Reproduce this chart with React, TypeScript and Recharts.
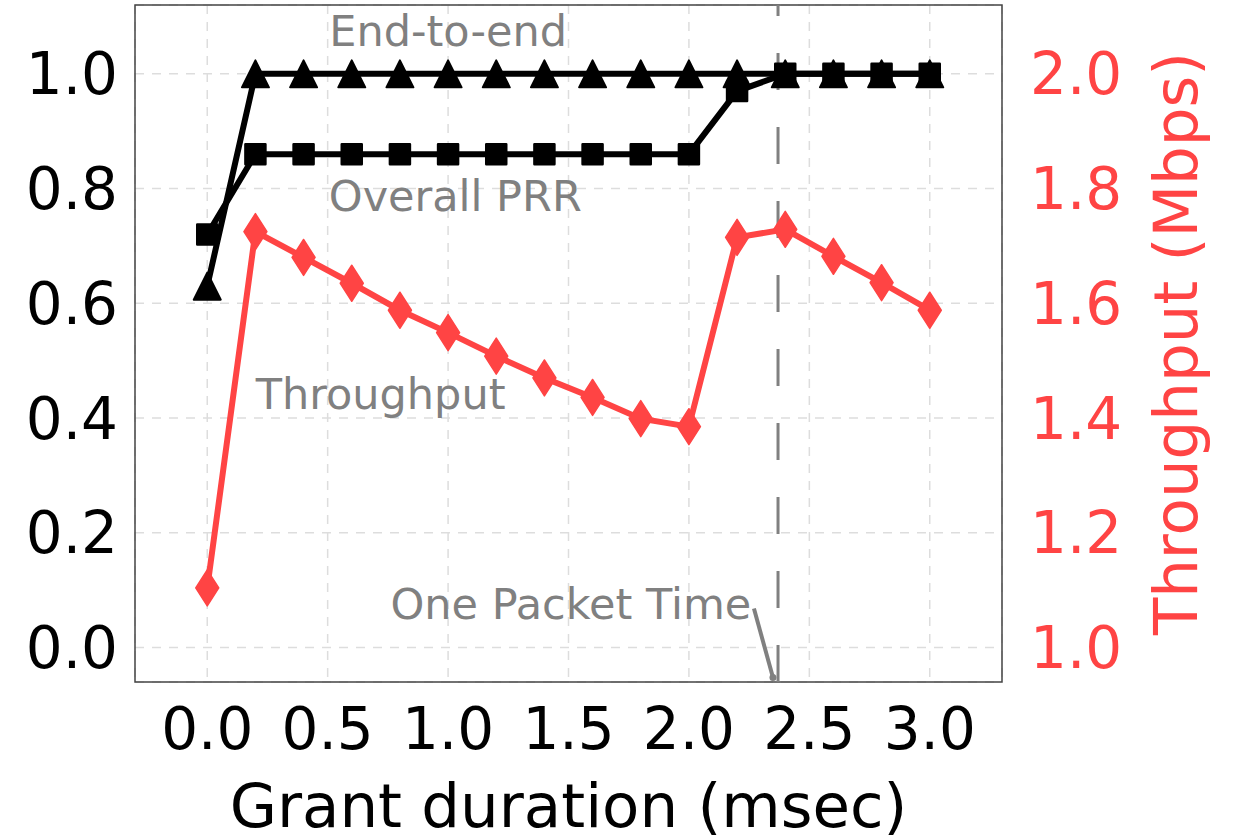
import React from 'react';
import {
  ComposedChart,
  Line,
  XAxis,
  YAxis,
  CartesianGrid,
  ReferenceLine,
  ReferenceDot,
  ReferenceArea,
} from 'recharts';

// grant duration in msec
const grantDuration = [0, 0.2, 0.4, 0.6, 0.8, 1.0, 1.2, 1.4, 1.6, 1.8, 2.0, 2.2, 2.4, 2.6, 2.8, 3.0];
const endToEndPrr = [0.63, 1, 1, 1, 1, 1, 1, 1, 1, 1, 1, 1, 1, 1, 1, 1];
const overallPrr = [0.72, 0.86, 0.86, 0.86, 0.86, 0.86, 0.86, 0.86, 0.86, 0.86, 0.86, 0.97, 1, 1, 1, 1];
const throughputMbps = [
  1.104, 1.725, 1.68, 1.635, 1.588, 1.549, 1.508, 1.47, 1.436, 1.399, 1.385, 1.715, 1.729, 1.682, 1.636, 1.588,
];

const xTicks = [0, 0.5, 1, 1.5, 2, 2.5, 3];
const prrTicks = [0, 0.2, 0.4, 0.6, 0.8, 1.0];
const tputTicks = [1.0, 1.2, 1.4, 1.6, 1.8, 2.0];
const onePacketTime = 2.37;

const RED = '#ff4444';
const GREY = '#808080';
const FONT = 'DejaVu Sans';

const data = grantDuration.map((x, i) => ({
  x,
  e2e: endToEndPrr[i],
  prr: overallPrr[i],
  tput: throughputMbps[i],
}));

const triangle = (p: any) => {
  const { cx, cy, index } = p;
  const h = 13.5;
  return (
    <path
      key={'t' + index}
      d={`M${cx},${cy - h} L${cx + h},${cy + h} L${cx - h},${cy + h} Z`}
      fill="#000"
      stroke="#000"
      strokeWidth={2}
      strokeLinejoin="round"
    />
  );
};

const square = (p: any) => {
  const { cx, cy, index } = p;
  return (
    <rect
      key={'s' + index}
      x={cx - 10}
      y={cy - 10}
      width={20}
      height={20}
      fill="#000"
      stroke="#000"
      strokeWidth={2.5}
      strokeLinejoin="round"
    />
  );
};

const diamond = (p: any) => {
  const { cx, cy, index } = p;
  return (
    <path
      key={'d' + index}
      d={`M${cx},${cy - 18} L${cx + 11.5},${cy} L${cx},${cy + 18} L${cx - 11.5},${cy} Z`}
      fill={RED}
      stroke={RED}
      strokeWidth={1.5}
      strokeLinejoin="round"
    />
  );
};

const fmt = (v: number) => v.toFixed(1);

export default function App() {
  return (
    <div style={{ position: 'absolute', left: 0, top: 0, background: '#fff' }}>
      <ComposedChart
        width={1233}
        height={839}
        data={data}
        margin={{ top: 5, right: 0, bottom: 0, left: 0 }}
        style={{ fontFamily: FONT }}
      >
        <CartesianGrid
          yAxisId="left"
          stroke="#dddddd"
          strokeWidth={1.5}
          strokeDasharray="9 8"
        />
        <XAxis
          dataKey="x"
          type="number"
          domain={[-0.3, 3.3]}
          ticks={xTicks}
          interval={0}
          tickFormatter={fmt}
          tickLine={false}
          axisLine={false}
          tickMargin={20}
          height={157}
          tick={{ fill: '#000', fontSize: 58, fontFamily: FONT }}
          label={{
            value: 'Grant duration (msec)',
            position: 'insideBottom',
            offset: 12,
            fill: '#000',
            fontSize: 61,
            fontFamily: FONT,
          }}
        />
        <YAxis
          yAxisId="left"
          domain={[-0.06, 1.12]}
          ticks={prrTicks}
          interval={0}
          tickFormatter={fmt}
          tickLine={false}
          axisLine={false}
          tickMargin={11}
          width={135}
          tick={{ fill: '#000', fontSize: 58, fontFamily: FONT }}
        />
        <YAxis
          yAxisId="right"
          orientation="right"
          domain={[0.94, 2.12]}
          ticks={tputTicks}
          interval={0}
          tickFormatter={fmt}
          tickLine={false}
          axisLine={false}
          tickMargin={22}
          width={231}
          tick={{ fill: RED, fontSize: 58, fontFamily: FONT }}
          label={{
            value: 'Throughput (Mbps)',
            angle: -90,
            position: 'center',
            dx: 58,
            fill: RED,
            fontSize: 61,
            fontFamily: FONT,
          }}
        />

        <ReferenceArea
          yAxisId="left"
          x1={-0.3}
          x2={3.3}
          y1={-0.06}
          y2={1.12}
          fill="none"
          stroke="#444"
          strokeWidth={1.5}
        />

        <ReferenceLine
          yAxisId="left"
          x={onePacketTime}
          stroke={GREY}
          strokeWidth={3}
          strokeDasharray="37 37"
        />

        <Line
          yAxisId="left"
          dataKey="e2e"
          stroke="#000"
          strokeWidth={6}
          dot={triangle}
          activeDot={false}
          isAnimationActive={false}
        />
        <Line
          yAxisId="left"
          dataKey="prr"
          stroke="#000"
          strokeWidth={6}
          dot={square}
          activeDot={false}
          isAnimationActive={false}
        />
        <Line
          yAxisId="right"
          dataKey="tput"
          stroke={RED}
          strokeWidth={6}
          dot={diamond}
          activeDot={false}
          isAnimationActive={false}
        />

        <ReferenceDot
          yAxisId="left"
          x={1.0}
          y={1.075}
          r={0.01}
          fill="none"
          stroke="none"
          label={{ value: 'End-to-end', position: 'center', fill: GREY, fontSize: 43, fontFamily: FONT }}
        />
        <ReferenceDot
          yAxisId="left"
          x={1.03}
          y={0.787}
          r={0.01}
          fill="none"
          stroke="none"
          label={{ value: 'Overall PRR', position: 'center', fill: GREY, fontSize: 43, fontFamily: FONT }}
        />
        <ReferenceDot
          yAxisId="left"
          x={0.72}
          y={0.443}
          r={0.01}
          fill="none"
          stroke="none"
          label={{ value: 'Throughput', position: 'center', fill: GREY, fontSize: 43, fontFamily: FONT }}
        />
        <ReferenceDot
          yAxisId="left"
          x={1.51}
          y={0.077}
          r={0.01}
          fill="none"
          stroke="none"
          label={{ value: 'One Packet Time', position: 'center', fill: GREY, fontSize: 43, fontFamily: FONT }}
        />
        <ReferenceLine
          yAxisId="left"
          segment={[
            { x: 2.27, y: 0.068 },
            { x: 2.349, y: -0.052 },
          ]}
          stroke={GREY}
          strokeWidth={4}
        />
        <ReferenceDot yAxisId="left" x={2.349} y={-0.052} r={3.5} fill={GREY} stroke="none" />
      </ComposedChart>
    </div>
  );
}
